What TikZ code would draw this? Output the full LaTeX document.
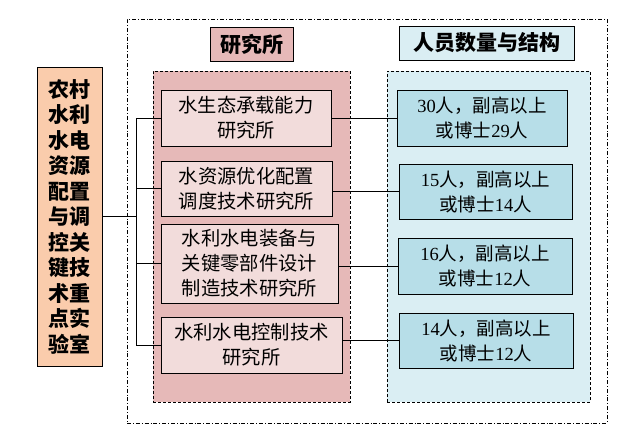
\documentclass[tikz,border=0pt]{standalone}
\usepackage{fontspec}
\newfontfamily\cjk{Noto Sans CJK SC}
\newfontfamily\lat{Liberation Serif}
\definecolor{labfill}{RGB}{250,204,172}
\definecolor{insfill}{RGB}{230,185,184}
\definecolor{insbox}{RGB}{242,220,219}
\definecolor{stafffill}{RGB}{218,238,243}
\definecolor{staffbox}{RGB}{183,222,232}
\tikzset{
  panel/.style={draw, dash pattern=on 3pt off 2pt, inner sep=0pt},
  headbox/.style={draw, thick, inner sep=0pt, align=center, font=\cjk\bfseries\fontsize{21}{24}\selectfont},
  insnode/.style={draw, thick, fill=insbox, inner sep=0pt, align=center, font=\cjk\fontsize{19.3}{25}\selectfont},
  staffnode/.style={draw, thick, fill=staffbox, inner sep=0pt, align=center, font=\cjk\fontsize{18.5}{25}\selectfont},
}
\newcommand{\num}[1]{{\lat #1}}
\begin{document}
\begin{tikzpicture}[x=1pt, y=-1pt]
            \useasboundingbox (0,0) rectangle (621,445);
            \node[draw, dash pattern=on 4pt off 2pt on 0.8pt off 2pt, minimum width=480pt, minimum height=404pt] (outer) at (367,221) {};
            \node[panel, fill=insfill, minimum width=197pt, minimum height=331pt] (insPanel) at (251.5,236.5) {};
            \node[panel, fill=stafffill, minimum width=203pt, minimum height=331pt] (staffPanel) at (488.5,236.5) {};
            \node[headbox, fill=labfill, minimum width=65pt, minimum height=299pt, font=\cjk\bfseries\fontsize{21}{25.5}\selectfont] (lab) at (69.5,216.5) {农村\\水利\\水电\\资源\\配置\\与调\\控关\\键技\\术重\\点实\\验室};
            \node[headbox, fill=insfill, minimum width=83pt, minimum height=34pt] (insHead) at (251.5,44) {研究所};
            \node[headbox, fill=stafffill, minimum width=175pt, minimum height=34pt] (staffHead) at (486.5,43) {人员数量与结构};
            \node[insnode, minimum width=170pt, minimum height=56pt] (ins1) at (246,118) {水生态承载能力\\研究所};
            \node[insnode, minimum width=171pt, minimum height=55pt] (ins2) at (246.5,188.5) {水资源优化配置\\调度技术研究所};
            \node[insnode, minimum width=177pt, minimum height=79pt] (ins3) at (249.5,263.5) {水利水电装备与\\关键零部件设计\\制造技术研究所};
            \node[insnode, minimum width=181pt, minimum height=56pt] (ins4) at (251.5,345) {水利水电控制技术\\研究所};
            \node[staffnode, minimum width=170pt, minimum height=56pt] (staff1) at (482,118) {\num{30}人，副高以上\\或博士\num{29}人};
            \node[staffnode, minimum width=173pt, minimum height=55pt] (staff2) at (485.5,191.5) {\num{15}人，副高以上\\或博士\num{14}人};
            \node[staffnode, minimum width=174pt, minimum height=56pt] (staff3) at (485,266) {\num{16}人，副高以上\\或博士\num{12}人};
            \node[staffnode, minimum width=174pt, minimum height=55pt] (staff4) at (486,340.5) {\num{14}人，副高以上\\或博士\num{12}人};
            \coordinate (trunk) at (136,216.5);
            \draw (lab.east) -- (trunk);
            \draw (trunk |- ins1.west) -- (trunk |- ins4.west);
            \foreach \i in {1,...,4} {
              \draw (trunk |- ins\i.west) -- (ins\i.west);
              \draw (ins\i.east |- staff\i.west) -- (staff\i.west);
            }
    \end{tikzpicture}
\end{document}
